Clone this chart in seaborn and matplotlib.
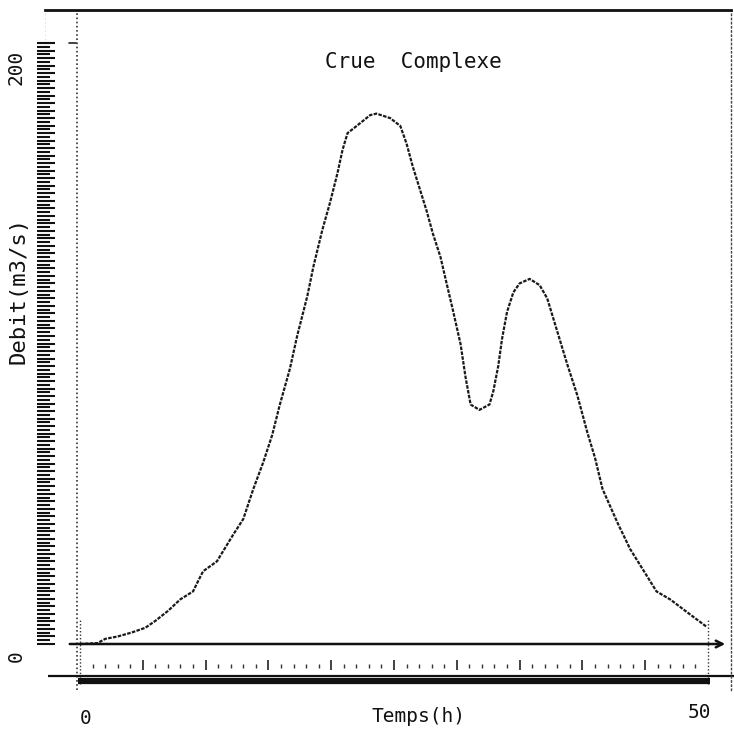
import numpy as np
import pandas as pd
import matplotlib
matplotlib.use("Agg")
import matplotlib.pyplot as plt
import seaborn as sns

# Hydrograph of a complex flood: time (h) vs discharge (m3/s)
temps = [0.0, 1.4, 2.0, 3.0, 4.1, 5.2, 6.0, 7.0, 8.0, 9.0, 9.4, 9.8, 10.9, 12.2,
         13.0, 13.8, 14.6, 15.3, 15.9, 16.7, 17.3, 18.1, 18.6, 19.3, 19.9, 20.5,
         20.9, 21.3, 22.3, 23.1, 23.6, 24.7, 25.5, 26.0, 26.5, 27.1, 27.6, 28.1,
         28.7, 29.2, 29.7, 30.3, 30.7, 31.1, 31.8, 32.6, 32.9, 33.3, 33.6, 34.0,
         34.5, 35.0, 35.8, 36.6, 37.2, 38.0, 38.8, 39.6, 40.4, 41.0, 41.6, 42.8,
         43.8, 44.8, 45.9, 47.0, 48.3, 49.9]
debit = [0.0, 0.3, 1.7, 2.5, 3.8, 5.4, 7.7, 11.0, 14.9, 17.5, 20.9, 24.2, 27.5, 36.4,
         41.6, 51.6, 60.6, 69.5, 79.5, 91.4, 102.7, 115.8, 125.9, 137.9, 146.8, 156.7,
         164.4, 170.0, 173.3, 176.0, 176.5, 175.0, 172.4, 166.5, 158.8, 150.8, 144.1, 136.5,
         128.8, 119.8, 110.9, 99.8, 88.7, 79.7, 77.9, 79.7, 84.0, 92.5, 101.5, 110.5,
         117.0, 120.0, 121.5, 119.4, 115.0, 104.0, 93.0, 82.7, 70.3, 62.0, 51.6, 40.3,
         31.6, 24.9, 17.5, 14.8, 10.7, 5.7]

titre = "Crue  Complexe"
label_x = "Temps(h)"
label_y = "Debit(m3/s)"
x_ticks = [0, 50]
y_ticks = [0, 200]

sns.set_style("white")
plt.rcParams["font.family"] = ["DejaVu Sans Mono"]

W, H = 734, 735
fig = plt.figure(figsize=(W / 100, H / 100), dpi=100)

# pixel geometry of the plotting frame
px_left, px_right, px_top, px_bottom = 45, 731, 10, 690
x0_px, x50_px = 80, 708
y0_px, y200_px = 644, 43
sx = (x50_px - x0_px) / 50.0
sy = (y0_px - y200_px) / 200.0

ax = fig.add_axes([px_left / W, (H - px_bottom) / H,
                   (px_right - px_left) / W, (px_bottom - px_top) / H])
ax.set_xlim((px_left - x0_px) / sx, (px_right - x0_px) / sx)
ax.set_ylim((y0_px - px_bottom) / sy, (y0_px - px_top) / sy)


def tx(px):
    return (px - x0_px) / sx


def ty(py):
    return (y0_px - py) / sy


df = pd.DataFrame({"Temps": temps, "Debit": debit})
sns.lineplot(data=df, x="Temps", y="Debit", ax=ax, color="#1a1a1a",
             lw=1.6, linestyle=(0, (1.6, 0.6)))

# frame: solid top, dotted right, no bottom/left spines
for s in ["left", "bottom"]:
    ax.spines[s].set_visible(False)
ax.spines["top"].set_linewidth(2.0)
ax.spines["top"].set_color("#111111")
ax.spines["right"].set_linestyle((0, (1, 2)))
ax.spines["right"].set_linewidth(1.0)
ax.spines["right"].set_color("#444444")

# dotted vertical axis line at the origin
ax.axvline(tx(77), color="#333333", lw=1.2, linestyle=(0, (1, 1.5)))
ax.axvline(tx(44), ymin=0.95, color="#555555", lw=1.0, linestyle=(0, (1, 2)))

# zero line with arrow
ax.annotate("", xy=(tx(728), 0), xytext=(tx(67), 0),
            arrowprops=dict(arrowstyle="->", lw=1.8, color="#111111",
                            mutation_scale=12))

# time ruler below the axis
hours = np.arange(1, 50)
small = [h for h in hours if h % 5 != 0]
big = [h for h in hours if h % 5 == 0]
ax.vlines(small, ty(668), ty(664), color="#333333", lw=1.0)
ax.vlines(big, ty(670), ty(660), color="#222222", lw=1.2)
ax.vlines([0, 50], ty(684), ty(620), color="#333333", lw=1.0,
          linestyle=(0, (1, 1.5)))
ax.plot([tx(78), tx(710)], [ty(681), ty(681)], color="#111111", lw=4.5,
        solid_capstyle="butt", clip_on=False)
ax.plot([tx(48), tx(734)], [ty(676), ty(676)], color="#111111", lw=1.6,
        solid_capstyle="butt", clip_on=False)

# discharge ruler on the left
levels = np.arange(0, 201, 1.25)
lens = np.where(np.arange(len(levels)) % 2 == 0, 18, 13)
for lv, ln in zip(levels, lens):
    ax.plot([tx(37), tx(37 + ln)], [lv, lv], color="#111111", lw=1.5,
            clip_on=False, solid_capstyle="butt")
ax.plot([tx(69), tx(76)], [200, 200], color="#222222", lw=1.2, clip_on=False)

# texts
ax.text(tx(413), ty(62), titre, ha="center", va="center", fontsize=15,
        color="#111111")
ax.text(tx(419), ty(717), label_x, ha="center", va="center", fontsize=14,
        color="#111111", clip_on=False)
ax.text(tx(86), ty(718), str(x_ticks[0]), ha="center", va="center",
        fontsize=14, color="#111111", clip_on=False)
ax.text(tx(699), ty(712), str(x_ticks[1]), ha="center", va="center",
        fontsize=14, color="#111111", clip_on=False)
ax.text(tx(16), ty(67), str(y_ticks[1]), ha="center", va="center",
        rotation=90, fontsize=14, color="#111111", clip_on=False)
ax.text(tx(16), ty(656), str(y_ticks[0]), ha="center", va="center",
        rotation=90, fontsize=14, color="#111111", clip_on=False)
ax.text(tx(19), ty(290), label_y, ha="center", va="center",
        rotation=90, fontsize=16, color="#111111", clip_on=False)

ax.set_xticks([])
ax.set_yticks([])
ax.set_xlabel("")
ax.set_ylabel("")

fig.savefig("out.png", dpi=100, facecolor="white")
